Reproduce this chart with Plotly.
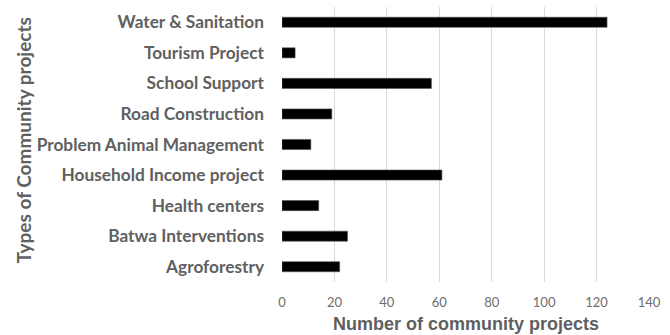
import plotly.graph_objects as go

# Community project types (bottom to top) and their counts
categories = [
    "Agroforestry",
    "Batwa Interventions",
    "Health centers",
    "Household Income project",
    "Problem Animal Management",
    "Road Construction",
    "School Support",
    "Tourism Project",
    "Water & Sanitation",
]
counts = [22, 25, 14, 61, 11, 19, 57, 5, 124]
x_ticks = [0, 20, 40, 60, 80, 100, 120, 140]

fig = go.Figure(
    go.Bar(
        x=counts,
        y=categories,
        orientation="h",
        width=0.33,
        marker=dict(color="#000000", line=dict(color="#555555", width=0.6)),
    )
)

fig.update_layout(
    width=670,
    height=335,
    margin=dict(l=282, r=21, t=7, b=53),
    paper_bgcolor="white",
    plot_bgcolor="white",
    showlegend=False,
    bargap=0.67,
    annotations=[
        dict(
            text="Number of community projects",
            xref="paper", yref="paper",
            x=0.5, y=-0.153,
            xanchor="center", yanchor="middle",
            showarrow=False,
            font=dict(family="Liberation Sans", size=18, color="#5f5f5f", weight="bold"),
        ),
        dict(
            text="Types of Community projects",
            xref="paper", yref="paper",
            x=-0.706, y=0.515,
            xanchor="center", yanchor="middle",
            textangle=-90,
            showarrow=False,
            font=dict(family="Lato", size=19, color="#606060", weight="bold"),
        ),
    ],
)

fig.update_xaxes(
    range=[0, 140],
    tickvals=x_ticks,
    showgrid=True,
    gridcolor="#d9d9d9",
    gridwidth=1,
    zeroline=False,
    showline=False,
    ticks="",
    ticklabelstandoff=11,
    tickfont=dict(family="Lato", size=13, color="#6e6e6e"),
)

fig.update_yaxes(
    categoryorder="array",
    categoryarray=categories,
    showgrid=False,
    zeroline=False,
    showline=False,
    ticks="",
    ticklabelstandoff=17,
    tickfont=dict(family="Lato", size=17.3, color="#606060", weight="bold"),
)

fig.write_html("out.html")
